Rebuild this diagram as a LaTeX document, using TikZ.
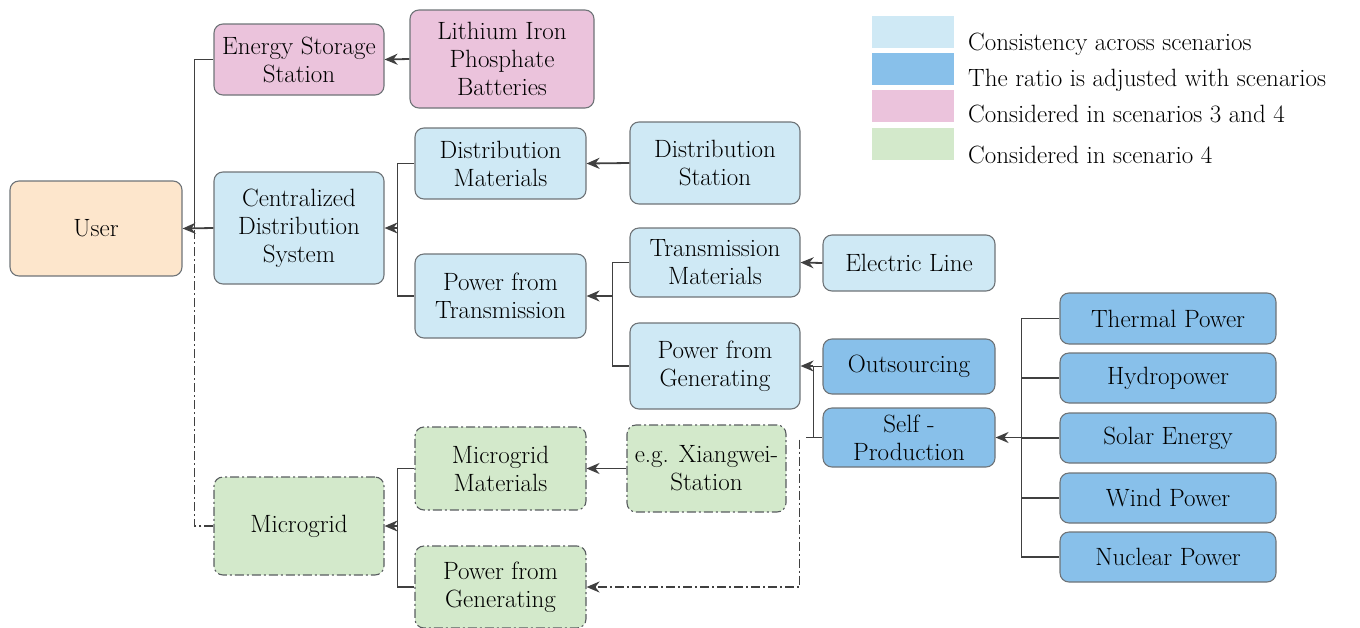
\documentclass[tikz,border=0pt]{standalone}
\usetikzlibrary{arrows.meta,calc}
\definecolor{cPeach}{HTML}{FDE6CC}
\definecolor{cPink}{HTML}{EBC3DC}
\definecolor{cLight}{HTML}{CFE9F5}
\definecolor{cBlue}{HTML}{88C0EA}
\definecolor{cGreen}{HTML}{D3E9CB}
\definecolor{cEdge}{HTML}{6F7478}
\definecolor{cLine}{HTML}{404040}
\begin{document}
\begin{tikzpicture}[x=1pt,y=-1pt,
  box/.style={draw=cEdge,line width=1.1pt,rounded corners=9pt,inner sep=0pt,
    align=center,font=\fontsize{25}{28}\selectfont,text=black},
  bx/.style n args={3}{box,minimum width=#1,minimum height=#2,fill=#3},
  ddpat/.style={dash pattern=on 9pt off 3pt on 2pt off 3pt},
  gbox/.style={box,fill=cGreen,draw=cEdge!80!black,ddpat},
  conn/.style={draw=cLine,line width=1.8pt},
  arr/.style={conn,-{Stealth[length=13pt,width=11pt]}},
  dd/.style={conn,ddpat},
  legtext/.style={anchor=base west,inner sep=0pt,font=\fontsize{25}{30}\selectfont,text=black}]
\useasboundingbox (0,0) rectangle (1360,627);

% ---- nodes ----
\node[bx={172}{95}{cPeach}]  (user) at (96,228.5) {User};
\node[bx={170}{71}{cPink}]   (ess)  at (299,59.5) {Energy Storage\\Station};
\node[bx={184}{98}{cPink}]   (lfp)  at (502,59)   {Lithium Iron\\Phosphate\\Batteries};
\node[bx={170}{112}{cLight}] (cds)  at (299,228)  {Centralized\\Distribution\\System};
\node[bx={171}{71}{cLight}]  (dm)   at (500.5,163.5) {Distribution\\Materials};
\node[bx={170}{82}{cLight}]  (ds)   at (715,163)  {Distribution\\Station};
\node[bx={171}{84}{cLight}]  (pft)  at (500.5,296) {Power from\\Transmission};
\node[bx={170}{69}{cLight}]  (tm)   at (715,262.5) {Transmission\\Materials};
\node[bx={172}{56}{cLight}]  (el)   at (909,263)  {Electric Line};
\node[bx={170}{86}{cLight}]  (pfg)  at (715,366)  {Power from\\Generating};
\node[bx={172}{55}{cBlue}]   (out)  at (909,366.5) {Outsourcing};
\node[bx={172}{59}{cBlue}]   (sp)   at (909,437.5) {Self -\\Production};
\node[bx={216}{51}{cBlue}]   (thermal) at (1168,318.5) {Thermal Power};
\node[bx={216}{50}{cBlue}]   (hydro)   at (1168,378) {Hydropower};
\node[bx={216}{50}{cBlue}]   (solar)   at (1168,438) {Solar Energy};
\node[bx={216}{50}{cBlue}]   (wind)    at (1168,498) {Wind Power};
\node[bx={216}{50}{cBlue}]   (nuclear) at (1168,557) {Nuclear Power};
\node[gbox,minimum width=170,minimum height=98] (mg)   at (299,526)   {Microgrid};
\node[gbox,minimum width=171,minimum height=83] (mgm)  at (500.5,468.5) {Microgrid\\Materials};
\node[gbox,minimum width=159,minimum height=87] (xw)   at (706.5,468.5) {e.g. Xiangwei-\\Station};
\node[gbox,minimum width=171,minimum height=82] (pfg2) at (500.5,587)   {Power from\\Generating};

% ---- connectors ----
% storage and central supply to the user
\draw[arr] (lfp.west) -- (ess.east);
\draw[conn] (ess.west) -- ++(-19,0) coordinate (ubus) |- (user.east);
\draw[arr] (cds.west) -- (user.east);
\draw[dd] (mg.west) -| (ubus |- user.east);
% centralized distribution system
\draw[conn] (dm.west) -- ++(-17,0) coordinate (cbus) |- (pft.west);
\draw[arr] (cbus |- cds.east) -- (cds.east);
\draw[arr] (ds.west) -- (dm.east);
% power from transmission
\draw[conn] (tm.west) -- ++(-17,0) coordinate (tbus) |- (pfg.west);
\draw[arr] (tbus |- pft.east) -- (pft.east);
\draw[arr] (el.west) -- (tm.east);
% generation sources
\draw[conn] (out.west) -- ++(-9,0) coordinate (gbus) |- (sp.west);
\draw[conn] (gbus |- sp.west) -- ++(-7,0);
\draw[arr] (gbus |- pfg.east) -- (pfg.east);
\draw[dd,-{Stealth[length=13pt,width=11pt]}] ($(sp.west)+(-23,2)$) |- (pfg2.east);
% self-production mix
\draw[conn] (thermal.west) -- ++(-38,0) coordinate (sbus) |- (nuclear.west);
\draw[conn] (sbus |- hydro.west) -- (hydro.west);
\draw[conn] (sbus |- solar.west) -- (solar.west);
\draw[conn] (sbus |- wind.west) -- (wind.west);
\draw[arr] (sbus |- sp.east) -- (sp.east);
% microgrid
\draw[conn] (mgm.west) -- ++(-17,0) coordinate (mbus) |- (pfg2.west);
\draw[arr] (mbus |- mg.east) -- (mg.east);
\draw[arr] (xw.west) -- (mgm.east);

% ---- legend ----
\fill[cLight] (872,16) rectangle (954,48);
\fill[cBlue]  (872,53) rectangle (954,85);
\fill[cPink]  (872,90) rectangle (954,122);
\fill[cGreen] (872,128) rectangle (954,160);
\node[legtext] (l1) at (968,50)  {Consistency across scenarios};
\node[legtext] (l2) at (968,86)  {The ratio is adjusted with scenarios};
\node[legtext] (l3) at (968,122) {Considered in scenarios 3 and 4};
\node[legtext] (l4) at (968,163) {Considered in scenario 4};
\end{tikzpicture}
\end{document}
